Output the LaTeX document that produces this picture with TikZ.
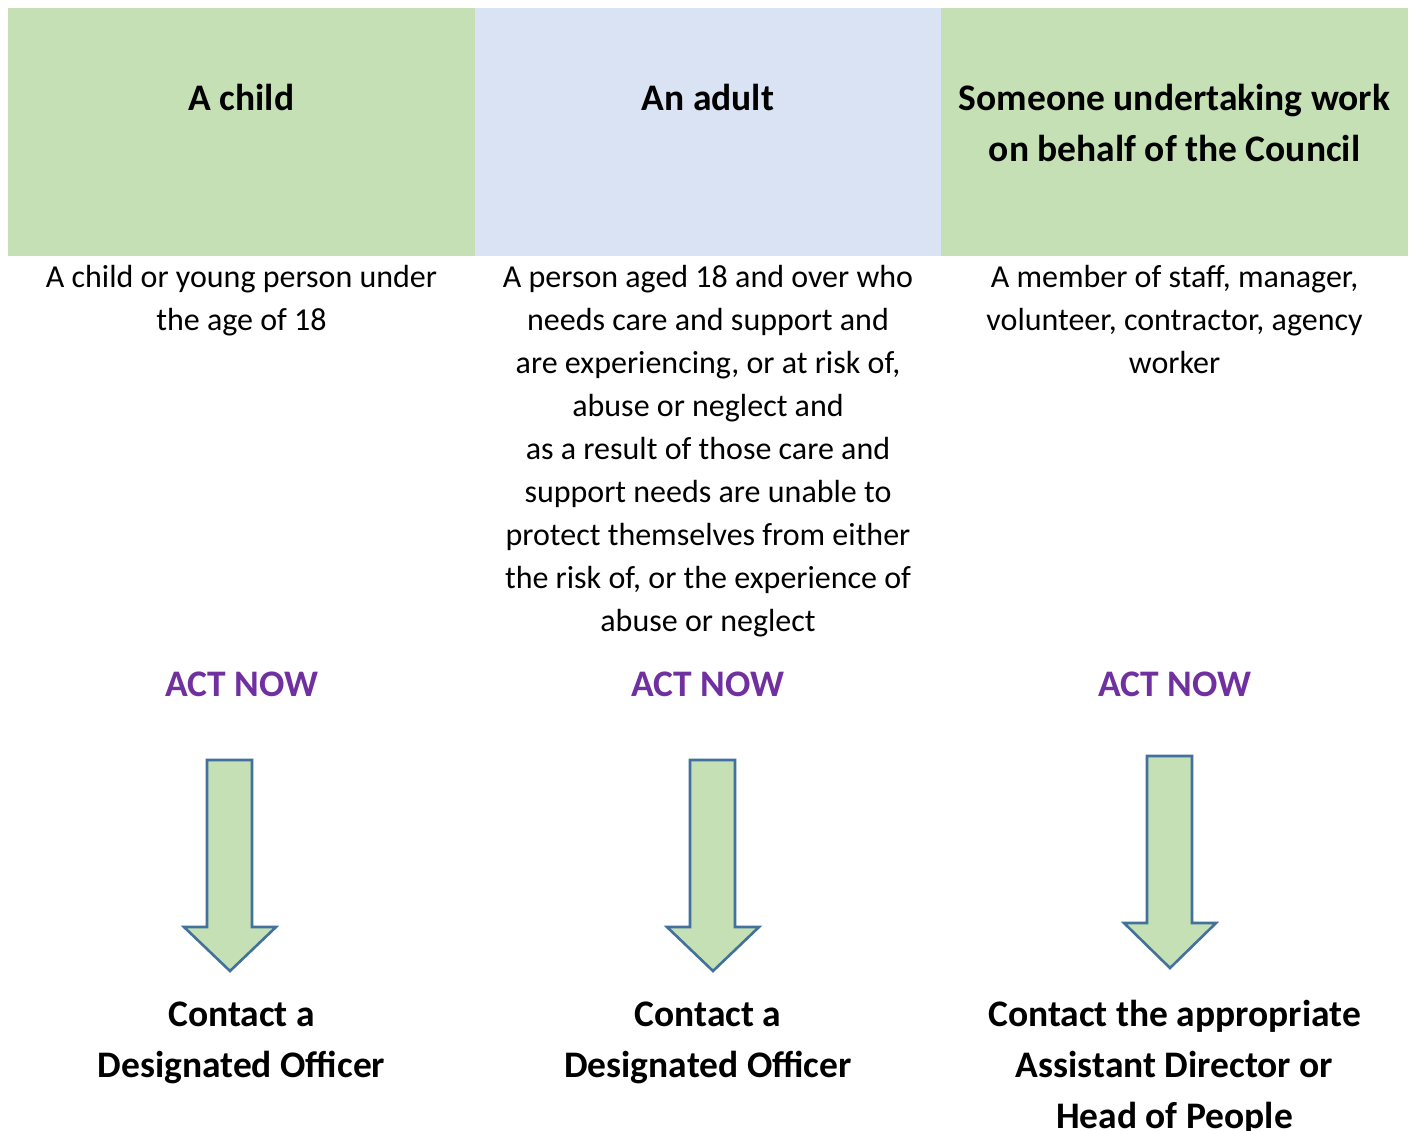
\documentclass[tikz,border=0pt]{standalone}
\usepackage{fontspec}
\setmainfont{Carlito}
\definecolor{hdgreen}{HTML}{C5E0B4}
\definecolor{hdblue}{HTML}{DAE3F3}
\definecolor{actpurple}{HTML}{7030A0}
\definecolor{arrowline}{HTML}{41719C}
\newcommand{\txtblk}[3]{{\fontsize{#1}{#2}\selectfont\begin{tabular}[t]{@{}c@{}}#3\end{tabular}}}
\begin{document}
\begin{tikzpicture}[x=1pt,y=-1pt,
  hdr/.style={fill=#1,draw=none},
  bodytxt/.style={anchor=base,inner sep=0pt},
  boldtxt/.style={anchor=base,inner sep=0pt,font=\bfseries},
  acttxt/.style={anchor=base,inner sep=0pt,font=\fontsize{37.5}{51}\selectfont\bfseries,text=actpurple},
  downarrow/.style={fill=hdgreen,draw=arrowline,line width=2.6pt,line join=miter}]
\useasboundingbox (0,0) rectangle (1410,1131);
\fill[white] (0,0) rectangle (1410,1131);
% header cells
\path[hdr=hdgreen] (8,8) rectangle (475,256);
\path[hdr=hdblue] (475,8) rectangle (941,256);
\path[hdr=hdgreen] (941,8) rectangle (1408,256);
% header titles
\node[boldtxt] (h1) at (241.5,111) {\txtblk{37.5}{51}{A child}};
\node[boldtxt] (h2) at (708,111) {\txtblk{37.5}{51}{An adult}};
\node[boldtxt] (h3) at (1174.5,111) {\txtblk{37.5}{51}{Someone undertaking work\\on behalf of the Council}};
% descriptions
\node[bodytxt] (d1) at (241.5,287.5) {\txtblk{32}{43}{A child or young person under\\the age of 18}};
\node[bodytxt] (d2) at (708,287.5) {\txtblk{32}{43}{A person aged 18 and over who\\needs care and support and\\are experiencing, or at risk of,\\abuse or neglect and\\as a result of those care and\\support needs are unable to\\protect themselves from either\\the risk of, or the experience of\\abuse or neglect}};
\node[bodytxt] (d3) at (1174.5,287.5) {\txtblk{32}{43}{A member of staff, manager,\\volunteer, contractor, agency\\worker}};
% act now
\node[acttxt] (a1) at (241.5,696.5) {ACT NOW};
\node[acttxt] (a2) at (708,696.5) {ACT NOW};
\node[acttxt] (a3) at (1174.5,696.5) {ACT NOW};
% arrows
\draw[downarrow] (207,760) -- (252,760) -- (252,927) -- (276,927) -- (230,971) -- (184,927) -- (207,927) -- cycle;
\draw[downarrow] (690,760) -- (735,760) -- (735,927) -- (759,927) -- (713,971) -- (667,927) -- (690,927) -- cycle;
\draw[downarrow] (1147,756) -- (1192,756) -- (1192,923) -- (1216,923) -- (1170,968) -- (1124,923) -- (1147,923) -- cycle;
% contacts
\node[boldtxt] (c1) at (241.5,1026.5) {\txtblk{37.5}{51}{Contact a\\Designated Officer}};
\node[boldtxt] (c2) at (708,1026.5) {\txtblk{37.5}{51}{Contact a\\Designated Officer}};
\node[boldtxt] (c3) at (1174.5,1026.5) {\txtblk{37.5}{51}{Contact the appropriate\\Assistant Director or\\Head of People}};
\end{tikzpicture}
\end{document}
